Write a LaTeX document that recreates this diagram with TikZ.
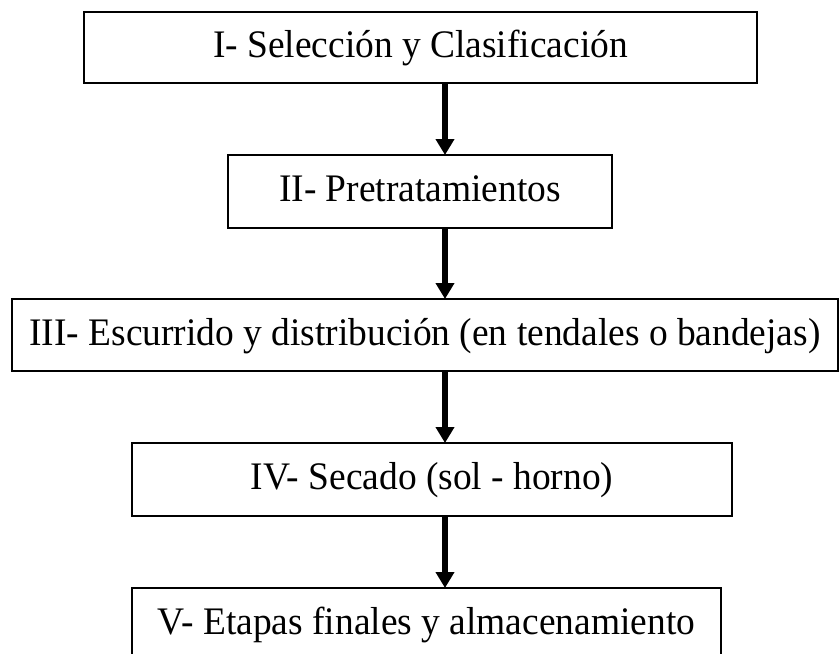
\documentclass[tikz,border=0pt]{standalone}
\usepackage{fontspec}
\setmainfont{Liberation Serif}
\newfontfamily\etapafont[FakeStretch=0.96]{Liberation Serif}
\usetikzlibrary{positioning,arrows.meta}

\tikzset{
  etapa/.style={draw, line width=1.3pt, inner sep=0pt, outer sep=0pt,
    text height=28pt, text depth=8pt,
    font=\etapafont\fontsize{39}{44}\selectfont},
  flecha/.style={line width=5.5pt, -{Triangle[width=18pt,length=16pt]}}
}

\begin{document}
\begin{tikzpicture}[x=1pt,y=1pt]
  \useasboundingbox (0,0) rectangle (839,-654);

  \node[etapa, minimum width=673pt, minimum height=71pt] (sel) at (420.5,-47.5) {I- Selección y Clasificación};
  \node[etapa, minimum width=384pt, minimum height=73pt] (pre) at (420,-191.5) {II- Pretratamientos};
  \node[etapa, minimum width=826pt, minimum height=72pt] (esc) at (425,-335) {III- Escurrido y distribución (en tendales o bandejas)};
  \node[etapa, minimum width=600pt, minimum height=73pt] (sec) at (432,-479.5) {IV- Secado (sol - horno)};
  \node[etapa, minimum width=589pt, minimum height=73pt] (fin) at (426.5,-624.5) {V- Etapas finales y almacenamiento};

  \coordinate (eje) at (445,0);

  \draw[flecha] (sel.south -| eje) -- (pre.north -| eje);
  \draw[flecha] (pre.south -| eje) -- (esc.north -| eje);
  \draw[flecha] (esc.south -| eje) -- (sec.north -| eje);
  \draw[flecha] (sec.south -| eje) -- (fin.north -| eje);
\end{tikzpicture}
\end{document}
